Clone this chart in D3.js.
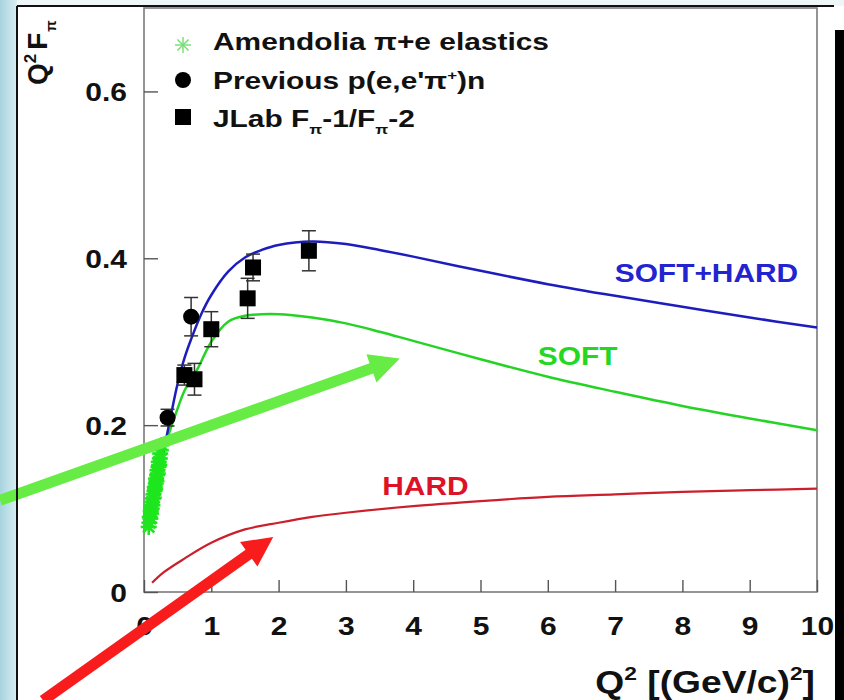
<!DOCTYPE html>
<html>
<head>
<meta charset="utf-8">
<script src="https://cdn.jsdelivr.net/npm/d3@7"></script>
<style>
body { margin: 0; background: #fff; }
text { font-family: "Liberation Sans", Arial, Helvetica, sans-serif; font-weight: bold; }
</style>
</head>
<body>
<div id="chart"></div>
<script>
// ---- data ----
const xTicks = [0, 1, 2, 3, 4, 5, 6, 7, 8, 9, 10];
const yTicks = [0, 0.2, 0.4, 0.6];

// SOFT+HARD curve
const softHardQ2 = [0.15, 0.2, 0.3, 0.4, 0.5, 0.6, 0.7, 0.85, 1.0, 1.25, 1.5, 1.75, 2.0, 2.5, 3, 3.5, 4, 5, 6, 7, 8, 9, 10];
const softHardVals = [0.105, 0.13, 0.172, 0.212, 0.25, 0.28, 0.303, 0.333, 0.356, 0.384, 0.401, 0.410, 0.416, 0.420, 0.417, 0.410, 0.402, 0.385, 0.369, 0.355, 0.342, 0.329, 0.317];

// SOFT curve
const softQ2 = [0.25, 0.3, 0.4, 0.5, 0.6, 0.8, 1.0, 1.25, 1.5, 2, 2.5, 3, 3.5, 4, 5, 6, 7, 8, 9, 10];
const softVals = [0.155, 0.17, 0.197, 0.22, 0.241, 0.268, 0.300, 0.324, 0.331, 0.333, 0.329, 0.322, 0.312, 0.301, 0.279, 0.258, 0.240, 0.223, 0.208, 0.194];

// HARD curve
const hardQ2 = [0.12, 0.3, 0.6, 1.0, 1.5, 2, 2.5, 3, 4, 5, 6, 7, 8, 9, 10];
const hardVals = [0.011, 0.024, 0.040, 0.059, 0.075, 0.083, 0.090, 0.095, 0.103, 0.109, 0.114, 0.117, 0.120, 0.122, 0.124];

// Amendolia pi+e elastics
const amendQ2 = [0.07, 0.08, 0.085, 0.095, 0.10, 0.105, 0.115, 0.12, 0.125, 0.135, 0.14, 0.145, 0.155, 0.16, 0.165,
    0.175, 0.18, 0.185, 0.195, 0.20, 0.205, 0.215, 0.22, 0.225, 0.235, 0.24, 0.25, 0.26];
const amendVals = [0.078, 0.083, 0.090, 0.088, 0.097, 0.094, 0.100, 0.108, 0.104, 0.112, 0.117, 0.113, 0.121, 0.126, 0.123,
    0.130, 0.136, 0.133, 0.140, 0.146, 0.142, 0.150, 0.156, 0.152, 0.160, 0.166, 0.170, 0.176];

// Previous p(e,e'pi+)n
const prevQ2 = [0.35, 0.70];
const prevVals = [0.209, 0.330];
const prevErr = [0.010, 0.023];

// JLab Fpi-1 / Fpi-2
const jlabQ2 = [0.60, 0.75, 1.00, 1.54, 1.62, 2.45];
const jlabVals = [0.260, 0.255, 0.315, 0.352, 0.389, 0.409];
const jlabErr = [0.012, 0.019, 0.021, 0.024, 0.016, 0.024];

// annotation arrows, [start, tip] in (Q2, value)
const greenArrow = [[-2.14, 0.110], [3.80, 0.280]];
const redArrow = [[-1.50, -0.130], [1.92, 0.066]];

// ---- layout ----
const width = 844, height = 700;
const margin = {top: 8, left: 144, right: 27, bottom: 108};

const svg = d3.select("#chart").append("svg")
    .attr("width", width)
    .attr("height", height);

// slide background bits
const defs = svg.append("defs");
const grad = defs.append("linearGradient").attr("id", "strip").attr("x1", 0).attr("x2", 1);
grad.append("stop").attr("offset", 0).attr("stop-color", "#a7d3de");
grad.append("stop").attr("offset", 1).attr("stop-color", "#d9eef2");
svg.append("rect").attr("x", 0).attr("y", 0).attr("width", 17).attr("height", height).attr("fill", "url(#strip)");
svg.append("rect").attr("x", 17).attr("y", 0).attr("width", width - 17).attr("height", 6).attr("fill", "#eef6f7");

const x = d3.scaleLinear().domain([0, 10]).range([margin.left, width - margin.right]);
const y = d3.scaleLinear().domain([0, 0.7]).range([height - margin.bottom, margin.top]);

// stretch text horizontally (the source picture is widened)
function stretch(sel, sx) {
    sel.each(function() {
        let t = d3.select(this);
        let tx = +t.attr("x") || 0, ty = +t.attr("y") || 0;
        t.attr("x", 0).attr("y", 0)
            .attr("transform", "translate(" + tx + "," + ty + ") scale(" + sx + ",1)");
    });
}

// frame
svg.append("rect")
    .attr("x", x(0)).attr("y", y(0.7))
    .attr("width", x(10) - x(0)).attr("height", y(0) - y(0.7))
    .attr("fill", "none").attr("stroke", "#7a7a7a").attr("stroke-width", 1.6);

// axes
let xAxis = d3.axisBottom(x).tickValues(xTicks).tickSize(-12).tickPadding(0).tickFormat(d3.format("d"));
let yAxis = d3.axisLeft(y).tickValues(yTicks).tickSize(-14).tickPadding(0)
    .tickFormat(d => d === 0 ? "0" : d.toFixed(1));

let gx = svg.append("g").attr("transform", "translate(0," + y(0) + ")").call(xAxis);
gx.select(".domain").remove();
gx.selectAll(".tick line").attr("stroke", "#555").attr("stroke-width", 1.4);
gx.selectAll(".tick text")
    .attr("fill", "#111").attr("font-size", 25).attr("dy", null)
    .attr("y", 43);
stretch(gx.selectAll(".tick text"), 1.2);

let gy = svg.append("g").attr("transform", "translate(" + x(0) + ",0)").call(yAxis);
gy.select(".domain").remove();
gy.selectAll(".tick line").attr("stroke", "#555").attr("stroke-width", 1.4);
gy.selectAll(".tick text")
    .attr("fill", "#111").attr("font-size", 25).attr("dy", null)
    .attr("x", -17).attr("y", 9);
stretch(gy.selectAll(".tick text"), 1.2);

// curves
const line = d3.line().x(d => x(d[0])).y(d => y(d[1])).curve(d3.curveCatmullRom.alpha(0.5));
const curves = [
    {q: softQ2, v: softVals, color: "#25d325", w: 2.5},
    {q: hardQ2, v: hardVals, color: "#cc1f2c", w: 2.2},
    {q: softHardQ2, v: softHardVals, color: "#1d1dbe", w: 2.5}
];
svg.selectAll(".curve")
    .data(curves)
    .enter().append("path")
    .attr("class", "curve")
    .attr("d", c => line(c.q.map((q, i) => [q, c.v[i]])))
    .attr("fill", "none")
    .attr("stroke", c => c.color)
    .attr("stroke-width", c => c.w);

// curve labels
const curveLabels = [
    {text: "SOFT+HARD", q: 9.72, v: 0.372, anchor: "end", color: "#2323cf"},
    {text: "SOFT", q: 5.85, v: 0.272, anchor: "start", color: "#22d822"},
    {text: "HARD", q: 3.54, v: 0.116, anchor: "start", color: "#dd1228"}
];
let lbl = svg.selectAll(".clabel")
    .data(curveLabels)
    .enter().append("text")
    .attr("class", "clabel")
    .attr("x", d => x(d.q)).attr("y", d => y(d.v))
    .attr("text-anchor", d => d.anchor)
    .attr("font-size", 26)
    .attr("fill", d => d.color)
    .text(d => d.text);
stretch(lbl, 1.15);

// Amendolia asterisks
function asterisk(g, r, color, w) {
    [[-r, 0, r, 0], [0, -r, 0, r], [-r * 0.7, -r * 0.7, r * 0.7, r * 0.7], [-r * 0.7, r * 0.7, r * 0.7, -r * 0.7]]
        .forEach(s => g.append("line")
            .attr("x1", s[0]).attr("y1", s[1]).attr("x2", s[2]).attr("y2", s[3])
            .attr("stroke", color).attr("stroke-width", w));
}
amendQ2.forEach((q, i) => {
    let g = svg.append("g").attr("transform", "translate(" + x(q) + "," + y(amendVals[i]) + ")");
    asterisk(g, 8, "#1ee61e", 2.6);
});

// error bars
function errorBars(qs, vs, es) {
    qs.forEach((q, i) => {
        let g = svg.append("g").attr("stroke", "#333").attr("stroke-width", 1.5);
        g.append("line").attr("x1", x(q)).attr("x2", x(q)).attr("y1", y(vs[i] - es[i])).attr("y2", y(vs[i] + es[i]));
        [vs[i] - es[i], vs[i] + es[i]].forEach(v =>
            g.append("line").attr("x1", x(q) - 7).attr("x2", x(q) + 7).attr("y1", y(v)).attr("y2", y(v)));
    });
}
errorBars(prevQ2, prevVals, prevErr);
errorBars(jlabQ2, jlabVals, jlabErr);

svg.selectAll(".prev")
    .data(prevQ2)
    .enter().append("circle")
    .attr("class", "prev")
    .attr("cx", d => x(d)).attr("cy", (d, i) => y(prevVals[i]))
    .attr("r", 8).attr("fill", "#000");

svg.selectAll(".jlab")
    .data(jlabQ2)
    .enter().append("rect")
    .attr("class", "jlab")
    .attr("x", d => x(d) - 8).attr("y", (d, i) => y(jlabVals[i]) - 8)
    .attr("width", 16).attr("height", 16).attr("fill", "#000");

// annotation arrows
function arrow(pts, color) {
    let x0 = x(pts[0][0]), y0 = y(pts[0][1]), x1 = x(pts[1][0]), y1 = y(pts[1][1]);
    let dx = x1 - x0, dy = y1 - y0, len = Math.hypot(dx, dy);
    let ux = dx / len, uy = dy / len, nx = -uy, ny = ux;
    let hl = 30, hw = 15, sw = 5.5;
    let bx = x1 - ux * hl, by = y1 - uy * hl;
    let p = [
        [x0 + nx * sw, y0 + ny * sw], [bx + nx * sw, by + ny * sw], [bx + nx * hw, by + ny * hw],
        [x1, y1],
        [bx - nx * hw, by - ny * hw], [bx - nx * sw, by - ny * sw], [x0 - nx * sw, y0 - ny * sw]
    ];
    svg.append("path").attr("d", "M" + p.join("L") + "Z").attr("fill", color);
}
arrow(greenArrow, "#66ec44");
arrow(redArrow, "#f81c1c");

// legend
let leg = svg.append("g");
asterisk(leg.append("g").attr("transform", "translate(183,45)"), 8, "#74dd74", 1.4);
leg.append("circle").attr("cx", 183).attr("cy", 80).attr("r", 8).attr("fill", "#000");
leg.append("rect").attr("x", 175).attr("y", 109).attr("width", 16).attr("height", 16).attr("fill", "#000");

let t1 = leg.append("text").attr("x", 213).attr("y", 50).attr("font-size", 23).attr("fill", "#111")
    .text("Amendolia \u03c0+e elastics");
let t2 = leg.append("text").attr("x", 213).attr("y", 89).attr("font-size", 23).attr("fill", "#111");
t2.append("tspan").text("Previous p(e,e'\u03c0");
t2.append("tspan").attr("dy", -9).attr("font-size", 13).text("+");
t2.append("tspan").attr("dy", 9).text(")n");
let t3 = leg.append("text").attr("x", 213).attr("y", 127).attr("font-size", 23).attr("fill", "#111");
t3.append("tspan").text("JLab F");
t3.append("tspan").attr("dy", 7).attr("font-size", 13).text("\u03c0");
t3.append("tspan").attr("dy", -7).text("-1/F");
t3.append("tspan").attr("dy", 7).attr("font-size", 13).text("\u03c0");
t3.append("tspan").attr("dy", -7).text("-2");
stretch(leg.selectAll("text"), 1.3);

// axis titles
let ytitle = svg.append("text")
    .attr("transform", "translate(47,85) rotate(-90)")
    .attr("font-size", 28).attr("fill", "#111");
ytitle.append("tspan").text("Q");
ytitle.append("tspan").attr("dy", -11).attr("font-size", 17).text("2");
ytitle.append("tspan").attr("dy", 11).attr("dx", 4).text("F");
ytitle.append("tspan").attr("dy", 9).attr("dx", 1).attr("font-size", 15).text("\u03c0");

let xtitle = svg.append("text")
    .attr("x", 815).attr("y", 693).attr("text-anchor", "end")
    .attr("font-size", 31).attr("fill", "#111");
xtitle.append("tspan").text("Q");
xtitle.append("tspan").attr("dy", -13).attr("font-size", 19).text("2");
xtitle.append("tspan").attr("dy", 13).text(" [(GeV/c)");
xtitle.append("tspan").attr("dy", -13).attr("font-size", 19).text("2");
xtitle.append("tspan").attr("dy", 13).text("]");
stretch(xtitle, 1.2);

// slide border and right bar
svg.append("line").attr("x1", 17).attr("x2", 834).attr("y1", 6).attr("y2", 6).attr("stroke", "#111").attr("stroke-width", 2);
svg.append("line").attr("x1", 17).attr("x2", 17).attr("y1", 6).attr("y2", height).attr("stroke", "#111").attr("stroke-width", 2);
svg.append("rect").attr("x", 835).attr("y", 30).attr("width", 9).attr("height", height - 30).attr("fill", "#000");
</script>
</body>
</html>
